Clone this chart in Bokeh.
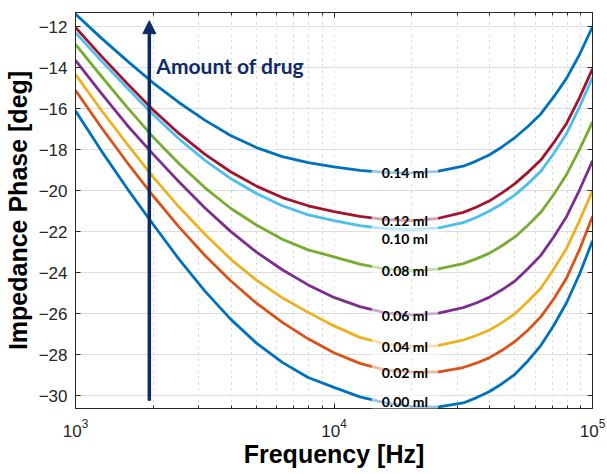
from bokeh.plotting import figure
from bokeh.models import (Range1d, FixedTicker, LogAxis, LinearAxis, Label, Arrow,
                          NormalHead, CustomJSTickFormatter)
from bokeh.embed import file_html
from bokeh.resources import INLINE

# ---------------- data ----------------
freq_hz = [1000, 1259, 1585, 1995, 2512, 3162, 3981, 5012, 6310, 7943,
           10000, 12589, 15849, 19953, 25119, 31623, 35481, 39811, 44668, 50119,
           56234, 63096, 70795, 79433, 89125, 100000]

phase_000 = [-16.10, -18.05, -19.89, -21.63, -23.33, -24.88, -26.26, -27.43, -28.37, -29.11,
             -29.59, -30.05, -30.35, -30.52, -30.55, -30.35, -30.10, -29.80, -29.41, -28.95,
             -28.30, -27.55, -26.57, -25.45, -24.06, -22.44]
phase_002 = [-15.09, -16.91, -18.62, -20.24, -21.76, -23.14, -24.39, -25.48, -26.42, -27.22,
             -27.90, -28.42, -28.75, -28.85, -28.84, -28.62, -28.41, -28.15, -27.78, -27.35,
             -26.80, -26.15, -25.28, -24.25, -22.86, -21.25]
phase_004 = [-14.31, -16.07, -17.72, -19.32, -20.78, -22.11, -23.33, -24.36, -25.22, -25.93,
             -26.59, -27.15, -27.48, -27.60, -27.55, -27.28, -27.06, -26.80, -26.43, -26.00,
             -25.40, -24.75, -23.83, -22.80, -21.45, -20.00]
phase_006 = [-13.63, -15.25, -16.80, -18.21, -19.56, -20.83, -21.98, -22.99, -23.85, -24.59,
             -25.20, -25.65, -25.95, -26.05, -25.98, -25.70, -25.47, -25.20, -24.83, -24.40,
             -23.80, -23.15, -22.25, -21.25, -19.95, -18.54]
phase_008 = [-12.85, -14.41, -15.93, -17.37, -18.67, -19.84, -20.85, -21.67, -22.36, -22.88,
             -23.22, -23.58, -23.82, -23.90, -23.82, -23.55, -23.32, -23.05, -22.68, -22.25,
             -21.68, -21.05, -20.18, -19.20, -17.98, -16.64]
phase_010 = [-12.28, -13.66, -14.99, -16.28, -17.46, -18.50, -19.40, -20.13, -20.73, -21.17,
             -21.45, -21.70, -21.85, -21.90, -21.82, -21.55, -21.30, -21.00, -20.63, -20.20,
             -19.66, -19.05, -18.18, -17.20, -15.90, -14.48]
phase_012 = [-12.03, -13.43, -14.76, -16.05, -17.20, -18.21, -19.07, -19.77, -20.33, -20.73,
             -21.01, -21.25, -21.40, -21.45, -21.35, -21.05, -20.80, -20.50, -20.10, -19.65,
             -19.10, -18.50, -17.65, -16.70, -15.45, -14.05]
phase_014 = [-11.38, -12.55, -13.66, -14.73, -15.69, -16.55, -17.30, -17.89, -18.33, -18.62,
             -18.83, -19.00, -19.10, -19.12, -19.05, -18.80, -18.55, -18.25, -17.86, -17.40,
             -16.86, -16.25, -15.42, -14.50, -13.35, -12.00]

series_names = ["0.00 ml", "0.02 ml", "0.04 ml", "0.06 ml", "0.08 ml", "0.10 ml", "0.12 ml", "0.14 ml"]
series_values = [phase_000, phase_002, phase_004, phase_006, phase_008, phase_010, phase_012, phase_014]
series_colors = ["#0072BD", "#D95319", "#EDB120", "#7E2F8E", "#77AC30", "#4DBEEE", "#A2142F", "#0072BD"]

# curve labels (frequency of label centre, phase of label centre)
label_freq = 18800
label_phase = [-30.27, -28.84, -27.60, -26.06, -23.88, -22.35, -21.45, -19.12]

y_ticks = [-30, -28, -26, -24, -22, -20, -18, -16, -14, -12]
x_ticks = [1e3, 1e4, 1e5]
x_minor_ticks = [2e3, 3e3, 4e3, 5e3, 6e3, 7e3, 8e3, 9e3,
                 2e4, 3e4, 4e4, 5e4, 6e4, 7e4, 8e4, 9e4]
y_min, y_max = -30.62, -11.30

arrow_freq = 1930
arrow_from = -30.24
arrow_to = -11.70
arrow_text = "Amount of drug"
arrow_text_phase = -13.91

x_title = "Frequency [Hz]"
y_title = "Impedance Phase [deg]"

# ---------------- figure ----------------
AX = "#262626"
NAVY = "#0c2a66"

p = figure(width=607, height=474, x_axis_type="log",
           x_range=Range1d(1e3, 1e5), y_range=Range1d(y_min, y_max),
           output_backend="svg", toolbar_location=None,
           min_border_left=73, min_border_right=15, min_border_top=12, min_border_bottom=66)
p.background_fill_color = "white"
p.border_fill_color = "white"
p.outline_line_color = AX
p.outline_line_width = 1

# axes
p.xaxis.ticker = FixedTicker(ticks=x_ticks, minor_ticks=x_minor_ticks)
p.yaxis.ticker = FixedTicker(ticks=y_ticks)
for ax in (p.xaxis[0], p.yaxis[0]):
    ax.axis_line_color = AX
    ax.major_tick_line_color = AX
    ax.minor_tick_line_color = AX
    ax.major_tick_in = 5
    ax.major_tick_out = 0
    ax.minor_tick_in = 3
    ax.minor_tick_out = 0
    ax.major_label_text_font = "Liberation Sans"
    ax.major_label_text_font_size = "17px"
    ax.major_label_text_color = AX
    ax.axis_label_text_font = "Liberation Sans"
    ax.axis_label_text_font_style = "bold"
    ax.axis_label_text_font_size = "25px"
    ax.axis_label_text_color = "black"

p.xaxis.axis_label = x_title
p.xaxis.major_label_standoff = 10
p.xaxis.axis_label_standoff = 0
p.yaxis.axis_label = y_title
p.yaxis.major_label_standoff = 8
p.yaxis.axis_label_standoff = 4

blank = CustomJSTickFormatter(code="return ''")
right_ax = LinearAxis(ticker=FixedTicker(ticks=y_ticks), formatter=blank,
                      major_tick_in=5, major_tick_out=0, minor_tick_in=0, minor_tick_out=0,
                      major_label_standoff=0, major_label_text_font_size="0px",
                      axis_line_color=AX, major_tick_line_color=AX)
p.add_layout(right_ax, "right")
top_ax = LogAxis(ticker=FixedTicker(ticks=x_ticks, minor_ticks=x_minor_ticks), formatter=blank,
                 major_tick_in=5, major_tick_out=0, minor_tick_in=3, minor_tick_out=0,
                 major_label_standoff=0, major_label_text_font_size="0px",
                 axis_line_color=AX, major_tick_line_color=AX, minor_tick_line_color=AX)
p.add_layout(top_ax, "above")

# grids
p.ygrid.grid_line_color = "#dedede"
p.ygrid.grid_line_width = 1
p.xgrid.grid_line_color = "#dcdcdc"
p.xgrid.grid_line_dash = "dotted"
p.xgrid.minor_grid_line_color = "#d2d2d2"
p.xgrid.minor_grid_line_dash = "dotted"

# curves
for vals, col in zip(series_values, series_colors):
    p.line(freq_hz, vals, line_color=col, line_width=2.8)

# curve labels
for name, yv in zip(series_names, label_phase):
    p.add_layout(Label(x=label_freq, y=yv, text=name, text_align="center", text_baseline="middle",
                       text_font="Lato", text_font_style="bold", text_font_size="14px",
                       text_color="black", background_fill_color="white",
                       background_fill_alpha=0.6,
                       padding=dict(left=10, right=10, top=1, bottom=1)))

# arrow + text
p.add_layout(Arrow(end=NormalHead(size=13, fill_color=NAVY, line_color=NAVY, line_width=1),
                   x_start=arrow_freq, y_start=arrow_from, x_end=arrow_freq, y_end=arrow_to,
                   line_color=NAVY, line_width=3.5))
p.add_layout(Label(x=arrow_freq, y=arrow_text_phase, x_offset=7, text=arrow_text,
                   text_baseline="alphabetic", text_align="left",
                   text_font="Lato", text_font_style="bold", text_font_size="21px",
                   text_color=NAVY))

open("out.html", "w").write(file_html(p, INLINE))
